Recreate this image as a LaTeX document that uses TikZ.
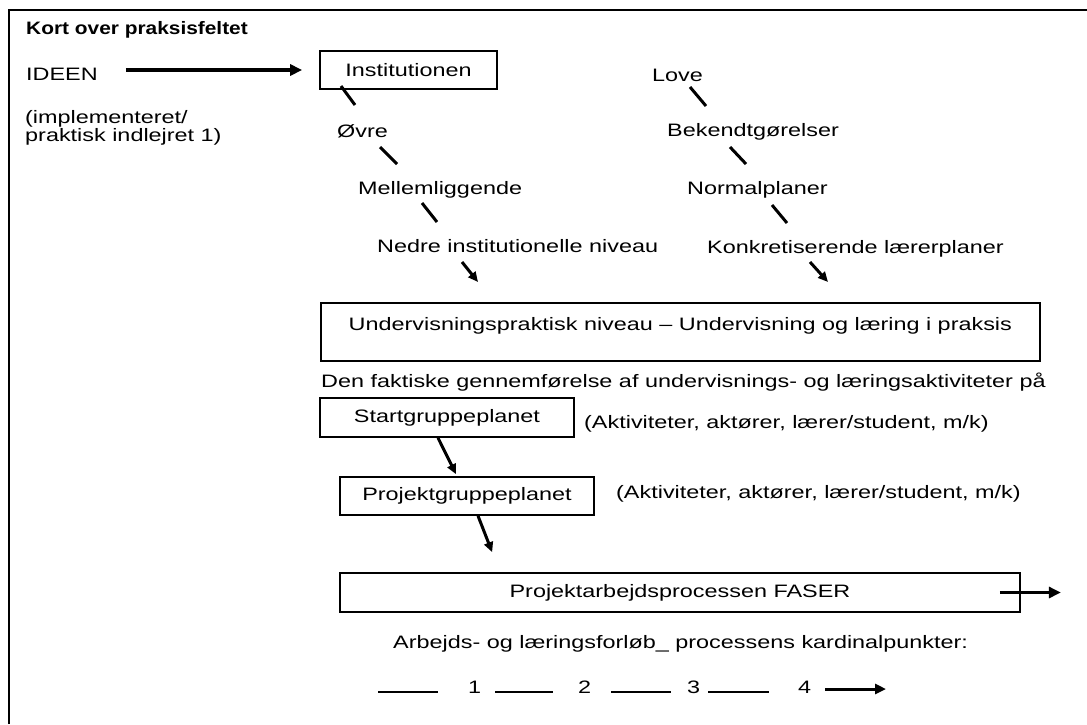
\documentclass[tikz,border=0pt]{standalone}
\usepackage{fontspec}
\setmainfont{Liberation Sans}[FakeStretch=1.3]
\newfontfamily\titlefont{Liberation Sans}[FakeStretch=1.16]
\usetikzlibrary{arrows.meta,calc}
\begin{document}
\begin{tikzpicture}[x=1pt,y=-1pt,
  txt/.style={inner sep=0pt, anchor=base west, font=\fontsize{18}{18}\selectfont},
  box/.style={draw, line width=1.7pt, inner sep=0pt, font=\fontsize{18}{18}\selectfont},
  slash/.style={line width=3pt},
  bigarrow/.style={line width=3.2pt, -{Triangle[length=12pt,width=11pt]}},
  smallarrow/.style={line width=3pt, -{Triangle[length=10pt,width=9pt]}},
  thinline/.style={line width=1.5pt},
]
\useasboundingbox (0,0) rectangle (1087,724);
\draw[line width=2pt] (9,724) -- (9,10) -- (1087,10);

% left column
\node[txt, font=\titlefont\fontsize{18}{18}\selectfont\bfseries] (title) at (26,34) {Kort over praksisfeltet};
\node[txt] (idee) at (26,80) {IDEEN};
\node[inner sep=0pt, anchor=north west, align=left, font=\fontsize{18}{15}\selectfont] (impl) at (25,110) {(implementeret/\\praktisk indlejret 1)};

\node[box, minimum width=177, minimum height=38] (inst) at (408.5,70) {Institutionen};
\draw[bigarrow] ($(idee.east |- inst.west)+(28,0)$) -- ([xshift=-17pt]inst.west);

\node[txt] (ovre) at (337,137) {Øvre};
\node[txt] (mell) at (358,194) {Mellemliggende};
\node[txt] (nedre) at (377,252) {Nedre institutionelle niveau};

\node[txt] (love) at (652,81) {Love};
\node[txt] (bek) at (667,136) {Bekendtgørelser};
\node[txt] (norm) at (687,194) {Normalplaner};
\node[txt] (konk) at (707,253) {Konkretiserende lærerplaner};

% slashes
\coordinate (s1a) at (341,86);  \coordinate (s1b) at (355,105);
\coordinate (s2a) at (380,147); \coordinate (s2b) at (397,164);
\coordinate (s3a) at (422,203); \coordinate (s3b) at (437,222);
\coordinate (s4a) at (462,262); \coordinate (s4b) at (478,282);
\coordinate (r1a) at (690,87);  \coordinate (r1b) at (706,106);
\coordinate (r2a) at (730,147); \coordinate (r2b) at (746,164);
\coordinate (r3a) at (772,205); \coordinate (r3b) at (787,223);
\coordinate (r4a) at (810,262); \coordinate (r4b) at (828,282);
\draw[slash] (s1a) -- (s1b);
\draw[slash] (s2a) -- (s2b);
\draw[slash] (s3a) -- (s3b);
\draw[smallarrow] (s4a) -- (s4b);
\draw[slash] (r1a) -- (r1b);
\draw[slash] (r2a) -- (r2b);
\draw[slash] (r3a) -- (r3b);
\draw[smallarrow] (r4a) -- (r4b);

% teaching level
\node[box, anchor=north west, minimum width=719, text height=13pt, text depth=15pt, inner ysep=15pt, inner xsep=0pt] (und) at (320,302) {Undervisningspraktisk niveau – Undervisning og læring i praksis};
\node[txt] (den) at (321,387) {Den faktiske gennemførelse af undervisnings- og læringsaktiviteter på};

\node[box, minimum width=254, minimum height=39] (start) at (447,417.5) {Startgruppeplanet};
\node[txt] (akt1) at (584,428) {(Aktiviteter, aktører, lærer/student, m/k)};

\node[box, minimum width=254, minimum height=38] (proj) at (467,496) {Projektgruppeplanet};
\node[txt] (akt2) at (616,498) {(Aktiviteter, aktører, lærer/student, m/k)};

\draw[smallarrow] ([xshift=-9pt]start.south) -- ([xshift=-11pt,yshift=2pt]proj.north);

\node[box, minimum width=680, minimum height=39] (faser) at (680,592.5) {Projektarbejdsprocessen FASER};
\draw[smallarrow] ([xshift=11pt]proj.south) -- ($(faser.north west)+(153,-20)$);
\draw[bigarrow] ([xshift=-21pt]faser.east) -- ([xshift=40pt]faser.east);

\node[txt] (arb) at (393,648) {Arbejds- og læringsforløb\_ processens kardinalpunkter:};

\node[txt] (n1) at (468,693) {1};
\node[txt] (n2) at (578,693) {2};
\node[txt] (n3) at (687,693) {3};
\node[txt] (n4) at (798,693) {4};
\coordinate (l0a) at (378,692); \coordinate (l0b) at (438,692);
\coordinate (l1a) at (495,692); \coordinate (l1b) at (553,692);
\coordinate (l2a) at (611,692); \coordinate (l2b) at (671,692);
\coordinate (l3a) at (708,692); \coordinate (l3b) at (769,692);
\coordinate (l4a) at (825,689); \coordinate (l4b) at (886,689);
\draw[thinline] (l0a) -- (l0b);
\draw[thinline] (l1a) -- (l1b);
\draw[thinline] (l2a) -- (l2b);
\draw[thinline] (l3a) -- (l3b);
\draw[line width=3pt, -{Triangle[length=11pt,width=10pt]}] (l4a) -- (l4b);
\end{tikzpicture}
\end{document}
